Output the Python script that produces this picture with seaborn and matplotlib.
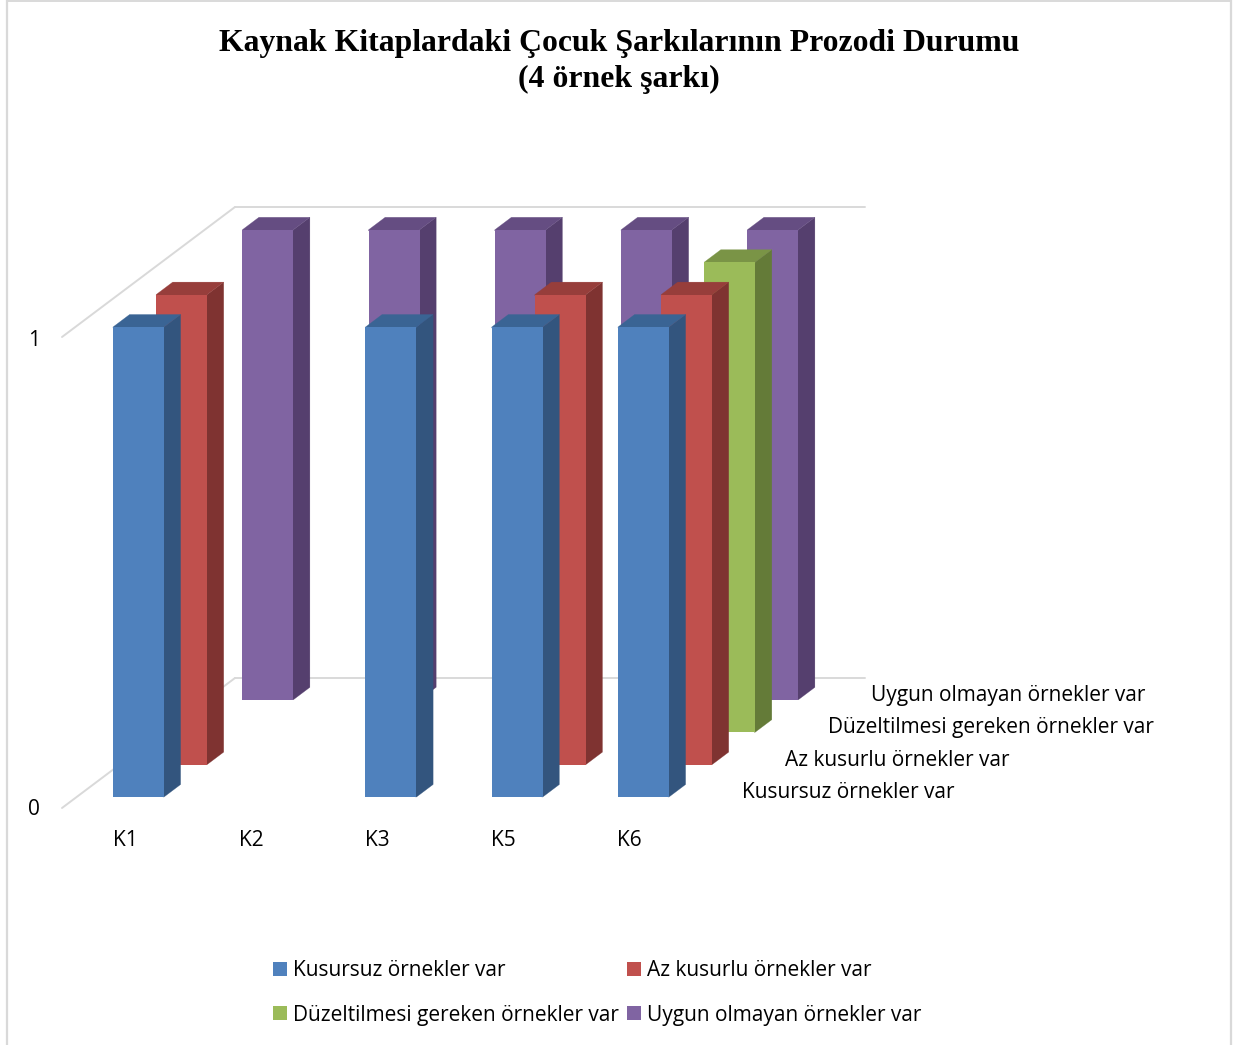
import matplotlib
matplotlib.use("Agg")
import matplotlib.pyplot as plt
from matplotlib.patches import Patch, Polygon
import seaborn as sns
import pandas as pd

W, H = 1233, 1045
categories = ["K1", "K2", "K3", "K5", "K6"]
series_names = ["Kusursuz örnekler var", "Az kusurlu örnekler var",
                "Düzeltilmesi gereken örnekler var", "Uygun olmayan örnekler var"]
kusursuz = [1, 0, 1, 1, 1]
az_kusurlu = [1, 0, 0, 1, 1]
duzeltilmesi = [0, 0, 0, 0, 1]
uygun_olmayan = [1, 1, 1, 1, 1]
series_values = [kusursuz, az_kusurlu, duzeltilmesi, uygun_olmayan]
y_ticks = [0, 1]
title_lines = "Kaynak Kitaplardaki Çocuk Şarkılarının Prozodi Durumu\n(4 örnek şarkı)"

front = ["#4F81BD", "#C0504D", "#9BBB59", "#8064A2"]
side = ["#33557E", "#7F3331", "#647B38", "#553F6E"]
top = ["#3A6494", "#973E3B", "#7A9446", "#654D82"]

# scales: one category step = 126.25 px, one value unit = 470 px
PX, PY = 126.25, 470.0
X0, Y0 = 138.5, 797.0
SERIES_DX, SERIES_DY = 43.1 / PX, 32.4 / PY
DEPTH_DX, DEPTH_DY = 16.6 / PX, 12.5 / PY
BAR_W = 51 / PX
UNDER_X, UNDER_Y = 1 / PX, 1 / PY   # side and top faces tuck under the front face

sns.set_theme(style="white")
fig = plt.figure(figsize=(W / 100, H / 100), dpi=100)
ax = fig.add_axes([0, 0, 1, 1])
ax.set_xlim(-X0 / PX, (W - X0) / PX)
ax.set_ylim((Y0 - H) / PY, Y0 / PY)
ax.set_axis_off()

def xp(px):
    return (px - X0) / PX

def yp(py):
    return (Y0 - py) / PY

grid = "#D9D9D9"
for py in (207, 678):
    ax.plot([xp(235), xp(865)], [yp(py), yp(py)], color=grid, lw=1.4, zorder=1)
    ax.plot([xp(62), xp(235)], [yp(py + 130), yp(py)], color=grid, lw=1.4, zorder=1)
for px in (7, 1231):
    ax.plot([xp(px), xp(px)], [yp(0), yp(H)], color=grid, lw=1.6, zorder=1)
ax.plot([xp(7), xp(1231)], [yp(0.5), yp(0.5)], color=grid, lw=1.4, zorder=1)

for s in range(3, -1, -1):
    vals = series_values[s]
    df = pd.DataFrame({"x": [i + s * SERIES_DX for i, v in enumerate(vals) if v],
                       "y": [v for v in vals if v]})
    n0 = len(ax.patches)
    z = 10 + (3 - s) * 3
    sns.barplot(data=df, x="x", y="y", native_scale=True, ax=ax, color=front[s],
                saturation=1, width=BAR_W, linewidth=0, zorder=z + 1, errorbar=None)
    bars = list(ax.patches[n0:])
    for bar in bars:
        centre = bar.get_x() + bar.get_width() / 2
        bar.set_width(BAR_W)
        bar.set_x(centre - BAR_W / 2)
        bar.set_y(s * SERIES_DY)
        x0, y0 = bar.get_x(), bar.get_y()
        x1, y1 = x0 + bar.get_width(), y0 + bar.get_height()
        ax.add_patch(Polygon([(x1 - UNDER_X, y0), (x1, y0), (x1 + DEPTH_DX, y0 + DEPTH_DY),
                              (x1 + DEPTH_DX, y1 + DEPTH_DY), (x1, y1), (x1 - UNDER_X, y1)],
                             facecolor=side[s], edgecolor=side[s], lw=0.2, zorder=z))
        ax.add_patch(Polygon([(x0, y1 - UNDER_Y), (x1, y1 - UNDER_Y), (x1, y1),
                              (x1 + DEPTH_DX, y1 + DEPTH_DY),
                              (x0 + DEPTH_DX, y1 + DEPTH_DY), (x0, y1)],
                             facecolor=top[s], edgecolor=top[s], lw=0.2, zorder=z))

ax.set_xlim(-X0 / PX, (W - X0) / PX)
ax.set_ylim((Y0 - H) / PY, Y0 / PY)
ax.set_xlabel("")
ax.set_ylabel("")

FONT = ["Open Sans", "DejaVu Sans"]
FS = 15
for v in y_ticks:
    ax.text(xp(34), yp(809.5 - 469 * v), str(v), ha="center", va="center",
            fontsize=FS, family=FONT, color="black")
for i, c in enumerate(categories):
    ax.text(xp(113 + 126 * i), yp(840), c, ha="left", va="center",
            fontsize=FS, family=FONT, color="black")
for s, name in enumerate(series_names):
    ax.text(xp(742 + 43 * s), yp(792.5 - 32.3 * s), name, ha="left", va="center",
            fontsize=FS, family=FONT, color="black")

ax.text(xp(619), yp(61.5), title_lines, ha="center", va="center", fontsize=22.9,
        family="Liberation Serif", weight="bold", color="black", linespacing=1.27)

order = [0, 2, 1, 3]
handles = [Patch(facecolor=front[i], edgecolor="none", label=series_names[i]) for i in order]
ax.legend(handles=handles, ncol=2, frameon=False, loc="upper left",
          bbox_to_anchor=(264.7 / W, 1 - 952 / H), prop={"family": FONT, "size": FS},
          labelcolor="black", handlelength=0.67, handleheight=0.67, handletextpad=0.29,
          labelspacing=1.12, columnspacing=0.39, borderpad=0.4, borderaxespad=0)

fig.savefig("out.png", dpi=100, facecolor="white")
